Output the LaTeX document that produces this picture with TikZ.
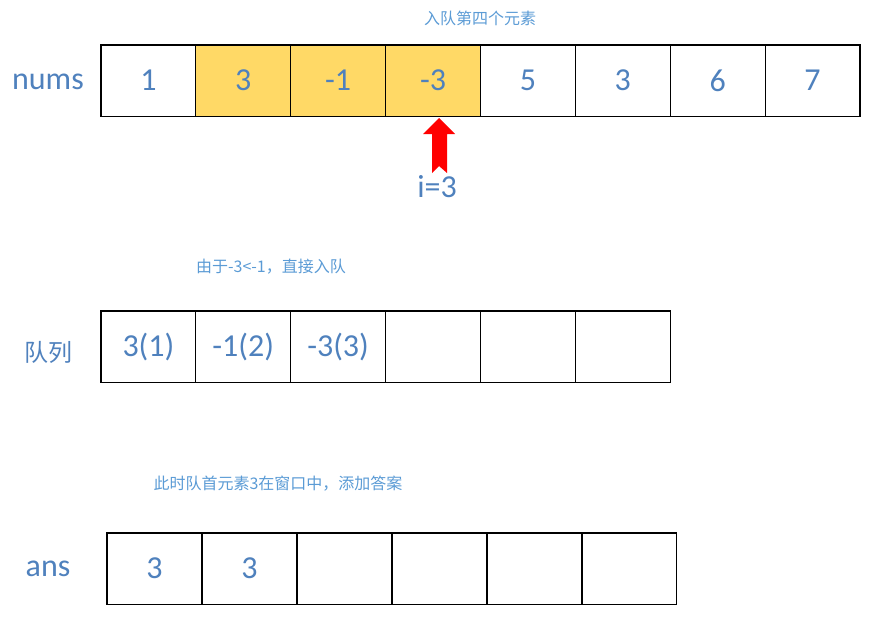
\documentclass[tikz,border=0pt]{standalone}
\usepackage{fontspec}
\setmainfont{Carlito}
\newfontfamily\cjk{Noto Sans CJK SC}
\definecolor{txtblue}{HTML}{4F81BD}
\definecolor{capblue}{HTML}{5B9BD5}
\definecolor{hl}{HTML}{FFD966}
\begin{document}
\begin{tikzpicture}[x=0.75pt,y=-0.75pt,
  cell/.style={draw=black,line width=0.8pt,minimum width=71.156pt,minimum height=53.5pt,inner sep=0pt,outer sep=0pt,anchor=north west,text=txtblue,font=\fontsize{24}{24}\selectfont},
  hcell/.style={cell,fill=hl},
  lbl/.style={text=txtblue,font=\fontsize{24}{24}\selectfont},
  cjklbl/.style={text=txtblue,font=\cjk\fontsize{18}{18}\selectfont},
  captxt/.style={text=capblue,font=\cjk\fontsize{12}{14}\selectfont}]
\useasboundingbox (0,0) rectangle (891,643);
% captions
\node[captxt] (c1) at (480,18) {入队第四个元素};
\node[captxt] (c2) at (271,267) {由于-3<-1，直接入队};
\node[captxt] (c3) at (278,484) {此时队首元素3在窗口中，添加答案};
% nums row
\node[lbl] (lnums) at (48,82) {nums};
\foreach \v [count=\i from 0] in {1,3,-1,-3,5,3,6,7}{
  \pgfmathsetmacro{\xx}{101+\i*94.875}
  \ifnum\i>0 \ifnum\i<4
    \node[hcell] (n\i) at (\xx,45) {\v};
  \else
    \node[cell] (n\i) at (\xx,45) {\v};
  \fi\else
    \node[cell] (n\i) at (\xx,45) {\v};
  \fi
}
% arrow
\fill[red] (439,118) -- (455,134) -- (447,134) -- (447,173) -- (439,166) -- (432,173) -- (432,134) -- (423,134) -- cycle;
\node[lbl] (iv) at (437,187) {i=3};
% queue row
\node[cjklbl] (lq) at (48,352) {队列};
\foreach \v [count=\i from 0] in {3(1),-1(2),-3(3),{},{},{}}{
  \node[cell] (q\i) at ({101+\i*94.83},311) {\v};
}
% ans row
\node[lbl] (lans) at (48,569) {ans};
\foreach \v [count=\i from 0] in {3,3,{},{},{},{}}{
  \node[cell] (a\i) at ({107+\i*95},533) {\v};
}
\end{tikzpicture}
\end{document}
